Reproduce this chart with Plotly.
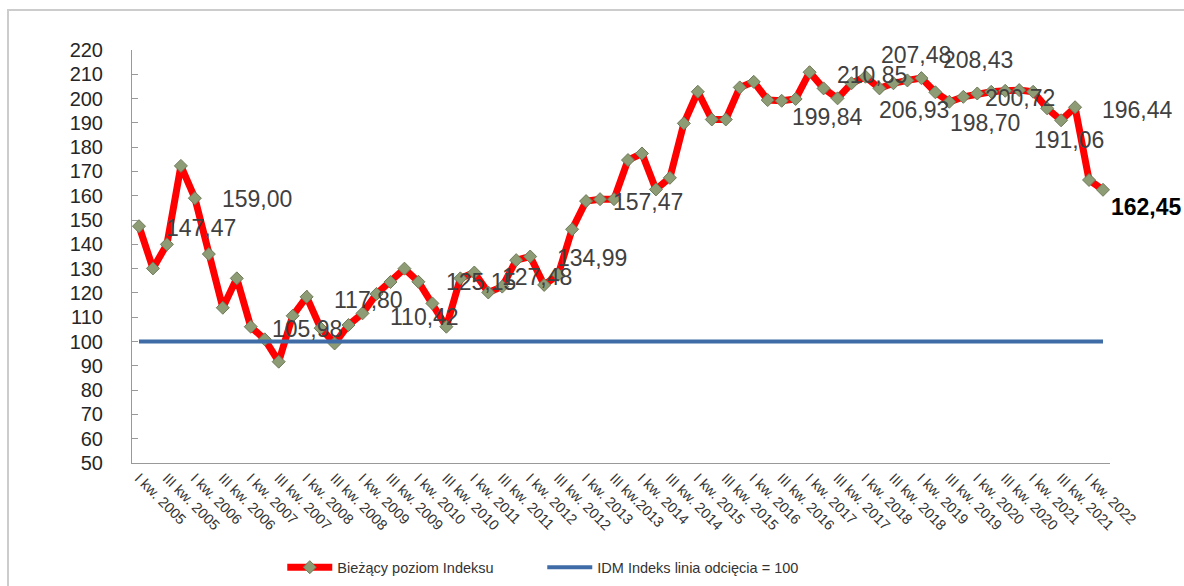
import plotly.graph_objects as go

# ---- data ----
index_values = [
    147.47, 130.1, 140.0, 172.3, 159.00, 136.0, 113.9, 126.0, 106.1, 100.9,
    91.7, 110.6, 118.4, 105.5, 99.2, 106.8, 111.6, 119.6, 124.5, 130.0,
    124.6, 115.7, 106.1, 126.0, 128.4, 120.2, 122.6, 133.5, 134.99, 123.3,
    127.48, 146.2, 157.8, 158.6, 158.6, 174.7, 177.4, 162.6, 167.4, 189.8,
    202.8, 191.4, 191.4, 204.6, 206.9, 199.4, 199.1, 199.84, 210.85, 204.2,
    200.1, 206.3, 209.0, 204.2, 206.3, 207.48, 208.43, 202.6, 198.70, 200.72,
    202.1, 202.8, 203.2, 203.5, 202.8, 196.0, 191.06, 196.44, 166.5, 162.45,
]
cutoff_value = 100

tick_labels = [
    "I kw. 2005", "III kw. 2005", "I kw. 2006", "III kw. 2006", "I kw. 2007",
    "III kw. 2007", "I kw. 2008", "III kw. 2008", "I kw. 2009", "III kw. 2009",
    "I kw. 2010", "III kw. 2010", "I kw. 2011", "III kw. 2011", "I kw. 2012",
    "III kw. 2012", "I kw. 2013", "III kw.2013", "I kw. 2014", "III kw. 2014",
    "I kw. 2015", "III kw. 2015", "I kw. 2016", "III kw. 2016", "I kw. 2017",
    "III kw. 2017", "I kw. 2018", "III kw. 2018", "I kw. 2019", "III kw. 2019",
    "I kw. 2020", "III kw. 2020", "I kw. 2021", "III kw. 2021", "I kw. 2022",
]

label_texts = [
    "147,47", "159,00", "105,98", "117,80", "110,42", "125,15", "127,48",
    "134,99", "157,47", "199,84", "210,85", "207,48", "206,93", "208,43",
    "198,70", "200,72", "191,06", "196,44",
]
# placement of the value labels (x in quarter index, y in index units)
label_x = [4.44, 8.45, 12.03, 16.46, 20.4, 24.48, 28.49, 32.43, 36.44, 49.25,
           52.47, 55.62, 55.48, 60.06, 60.56, 63.06, 66.57, 71.44]
label_y = [146.7, 158.6, 105.1, 117.1, 110.1, 124.5, 126.5, 134.3, 157.4, 192.4,
           209.7, 217.9, 195.3, 215.8, 189.9, 200.2, 182.9, 195.3]
last_label = "162,45"

series_name = "Bieżący poziom Indeksu"
cutoff_name = "IDM Indeks linia odcięcia = 100"

# ---- figure ----
n = len(index_values)
xs = list(range(n))
px_per_quarter = (1110 - 132) / n

fig = go.Figure()
fig.add_trace(go.Scatter(
    x=xs, y=index_values, mode="lines+markers", name=series_name,
    line=dict(color="#ff0000", width=7),
    marker=dict(symbol="diamond", size=10, color="#8e9c76",
                line=dict(color="#6d7a57", width=1)),
    legendrank=1,
))
fig.add_trace(go.Scatter(
    x=xs, y=[cutoff_value] * n, mode="lines", name=cutoff_name,
    line=dict(color="#3f6ca6", width=4),
    legendrank=2,
))

font_family = "Liberation Sans, Arial, sans-serif"
annotations = []
for t, ax_, ay_ in zip(label_texts, label_x, label_y):
    # labels beyond the last quarter are anchored at it and shifted in pixels
    anchor_x = min(ax_, n - 1)
    shift = (ax_ - anchor_x) * px_per_quarter
    annotations.append(dict(x=anchor_x, y=ay_, xref="x", yref="y", text=t,
                            showarrow=False, xanchor="center", yanchor="middle",
                            xshift=shift,
                            font=dict(family=font_family, size=23, color="#404040")))
annotations.append(dict(x=n - 1, y=index_values[-1], xref="x", yref="y",
                        text="<b>" + last_label + "</b>", showarrow=False,
                        xanchor="left", yanchor="top", xshift=6, yshift=-2,
                        font=dict(family=font_family, size=23, color="#000000")))

fig.update_layout(
    width=1184, height=586,
    margin=dict(l=132, r=74, t=50, b=123),
    paper_bgcolor="white", plot_bgcolor="white",
    font=dict(family=font_family, color="#333333"),
    showlegend=True,
    legend=dict(orientation="h", xref="container", yref="container",
                x=0.458, xanchor="center", y=0.032, yanchor="middle",
                font=dict(size=14.5, color="#333333"),
                itemwidth=45,
                entrywidth=200, entrywidthmode="pixels"),
    annotations=annotations,
    shapes=[dict(type="rect", xref="paper", yref="paper",
                 x0=-0.1268, x1=1.3, y0=-0.4, y1=1.0969,
                 line=dict(color="#cccccc", width=2), layer="below")],
)
fig.update_xaxes(
    range=[-0.5, n - 0.5],
    tickmode="array", tickvals=xs[::2], ticktext=tick_labels,
    tickangle=45, tickfont=dict(size=14.5, color="#333333"),
    showline=True, linecolor="#999999", linewidth=1,
    showgrid=False, zeroline=False, ticks="",
)
fig.update_yaxes(
    range=[50, 220], dtick=10, tick0=50,
    tickfont=dict(size=20, color="#262626"),
    showline=True, linecolor="#999999", linewidth=1,
    ticks="inside", ticklen=6, tickcolor="#999999",
    showgrid=False, zeroline=False,
    ticklabelstandoff=24,
)

fig.write_html("out.html")
